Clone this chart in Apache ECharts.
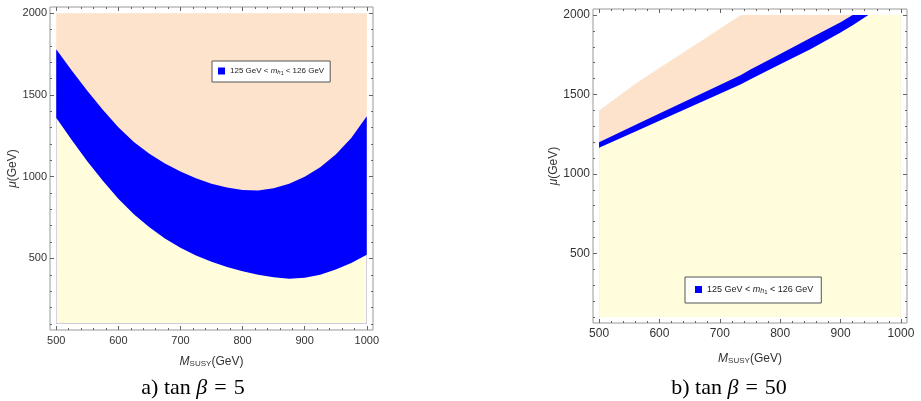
<!DOCTYPE html>
<html>
<head>
<meta charset="utf-8">
<script src="https://cdn.jsdelivr.net/npm/echarts@6/dist/echarts.min.js"></script>
<style>
  html, body { margin: 0; padding: 0; background: #fff; }
  #chart { width: 921px; height: 401px; }
</style>
</head>
<body>
<div id="chart"></div>
<script>
// Higgs mass band in the (M_SUSY, mu) plane, two tan(beta) values

// panel a) tan beta = 5
const x5 = [500, 525, 550, 575, 600, 625, 650, 675, 700, 725, 750, 775, 800, 825, 850, 875, 900, 925, 950, 975, 1000]
const lower5 = [1360, 1225, 1095, 975, 865, 770, 690, 622, 565, 518, 479, 447, 421, 400, 384, 376, 382, 400, 432, 472, 522]
const upper5 = [1779, 1650, 1525, 1410, 1302, 1212, 1140, 1080, 1031, 990, 957, 934, 919, 916, 929, 956, 1000, 1058, 1135, 1237, 1370]

// panel b) tan beta = 50
const x50 = [500, 565, 600, 650, 700, 735, 750, 800, 850, 900, 920, 946, 1000]
const lower50 = [1165, 1275, 1335, 1420, 1505, 1565, 1595, 1690, 1785, 1890, 1935, 2000, 2000]
const upper50 = [1200, 1317, 1380, 1470, 1560, 1623, 1655, 1755, 1855, 1955, 2000, 2000, 2000]
const top50 = [1400, 1580, 1667, 1790, 1914, 2000, 2000, 2000, 2000, 2000, 2000, 2000, 2000]

const muMin = 100
const muMax = 2000

const xTicks = [500, 600, 700, 800, 900, 1000]
const yTicks = [500, 1000, 1500, 2000]

const range = (a, b, s) => { const r = []; for (let v = a; v <= b; v += s) r.push(v); return r }
const xMinor = range(500, 1000, 20).filter(v => !xTicks.includes(v))
const yMinor = range(100, 2000, 100).filter(v => !yTicks.includes(v))

const font = 'Liberation Sans, Arial, sans-serif'
const serif = 'Liberation Serif, serif'
const COL = { yellow: '#FFFDDC', blue: '#0000FF', peach: '#FDE3CB', frame: '#9a9a9a', tick: '#666', text: '#333' }

const grids = [
  { left: 50, top: 7, width: 323, height: 323 },
  { left: 593, top: 9, width: 314, height: 314 },
]
const labelSize = [11, 12]

function mkAxis(dim, g, pos, values, len, labels) {
  return {
    type: 'value', gridIndex: g, position: pos,
    min: dim === 'x' ? 490 : 62, max: dim === 'x' ? 1010 : 2038,
    axisLine: { show: false }, splitLine: { show: false },
    axisTick: { show: true, inside: true, length: len, customValues: values, lineStyle: { color: COL.tick, width: 1 } },
    axisLabel: {
      show: labels, customValues: values, formatter: v => String(v),
      fontSize: labelSize[g], color: COL.text, fontFamily: font, margin: dim === 'x' ? 5 : 3,
    },
  }
}

const subRich = {
  i: { fontStyle: 'italic', fontSize: 12, fontFamily: font, color: COL.text, verticalAlign: 'bottom', lineHeight: 14 },
  s: { fontSize: 8, fontFamily: font, color: COL.text, verticalAlign: 'bottom', lineHeight: 10 },
  n: { fontSize: 12, fontFamily: font, color: COL.text, verticalAlign: 'bottom', lineHeight: 14 },
}

const xAxis = [], yAxis = []
grids.forEach((gr, g) => {
  const xm = mkAxis('x', g, 'bottom', xTicks, 4, true)
  xm.name = '{i|M}{s|SUSY}{n|(GeV)}'
  xm.nameLocation = 'middle'
  xm.nameGap = g === 0 ? 24 : 28
  xm.nameTextStyle = { rich: subRich }
  xAxis[g] = xm
  const ym = mkAxis('y', g, 'left', yTicks, 4, true)
  ym.name = '{i|μ}{n|(GeV)}'
  ym.nameLocation = 'middle'
  ym.nameGap = g === 0 ? 23 : 31
  ym.nameTextStyle = { rich: subRich }
  yAxis[g] = ym
})
grids.forEach((gr, g) => {
  xAxis.push(mkAxis('x', g, 'bottom', xMinor, 2, false))
  xAxis.push(mkAxis('x', g, 'top', xTicks, 4, false))
  xAxis.push(mkAxis('x', g, 'top', xMinor, 2, false))
  yAxis.push(mkAxis('y', g, 'left', yMinor, 2, false))
  yAxis.push(mkAxis('y', g, 'right', yTicks, 4, false))
  yAxis.push(mkAxis('y', g, 'right', yMinor, 2, false))
})

// each region is filled from its upper edge down to mu = 100; later series paint over earlier ones
function regionSeries(xs, lower, upper, top, g, name) {
  const base = { type: 'line', xAxisIndex: g, yAxisIndex: g, smooth: false, symbol: 'none', silent: true, lineStyle: { width: 0 } }
  const fill = color => ({ color, opacity: 1, origin: muMin })
  return [
    { ...base, name: 'p' + g, data: xs.map((x, i) => [x, top[i]]), areaStyle: fill(COL.peach) },
    { ...base, name, data: xs.map((x, i) => [x, upper[i]]), areaStyle: fill(COL.blue), itemStyle: { color: COL.blue } },
    { ...base, name: 'y' + g, data: xs.map((x, i) => [x, lower[i]]), areaStyle: fill(COL.yellow) },
  ]
}

const legendText = '125 GeV < {i|m}{s|h}{ss|1} < 126 GeV'
function mkLegend(name, left, top, fs, pad) {
  return {
    data: [name], left, top, orient: 'horizontal',
    icon: 'rect', itemWidth: 7, itemHeight: 7,
    backgroundColor: '#fff', borderColor: '#555', borderWidth: 1, borderRadius: 0, padding: pad,
    selectedMode: false,
    formatter: () => legendText,
    textStyle: {
      fontSize: fs, fontFamily: font, color: '#222',
      rich: {
        i: { fontStyle: 'italic', fontSize: fs, fontFamily: font, color: '#222' },
        s: { fontStyle: 'italic', fontSize: fs - 2, fontFamily: font, color: '#222', padding: [3, 0, 0, 0] },
        ss: { fontSize: fs - 3, fontFamily: font, color: '#222', padding: [5, 0, 0, 0] },
      },
    },
  }
}

const capRich = {
  n: { fontSize: 22, fontFamily: serif, fill: '#000' },
  b: { fontStyle: 'italic', fontSize: 22, fontFamily: serif, fill: '#000' },
  e: { fontSize: 22, fontFamily: serif, fill: '#000', padding: [0, 7, 0, 7] },
}
function caption(label, value, x) {
  return {
    type: 'text', x, y: 377, silent: true,
    style: {
      text: `{n|${label}) tan }{b|β}{e|=}{n|${value}}`,
      align: 'center', verticalAlign: 'top', fontSize: 22, fontFamily: serif, fill: '#000', rich: capRich,
    },
  }
}

const chart = echarts.init(document.getElementById('chart'), null, { renderer: 'canvas' })
chart.setOption({
  animation: false,
  backgroundColor: '#fff',
  grid: grids.map(g => ({ ...g, show: true, borderColor: COL.frame, borderWidth: 1, backgroundColor: 'transparent' })),
  xAxis,
  yAxis,
  legend: [
    mkLegend('band5', 212, 61, 8, [6, 6, 6, 6]),
    mkLegend('band50', 685, 277, 9, [8, 8, 8, 10]),
  ],
  series: [
    ...regionSeries(x5, lower5, upper5, x5.map(() => muMax), 0, 'band5'),
    ...regionSeries(x50, lower50, upper50, top50, 1, 'band50'),
  ],
  graphic: [
    caption('a', '5', 193),
    caption('b', '50', 729),
  ],
})
</script>
</body>
</html>
